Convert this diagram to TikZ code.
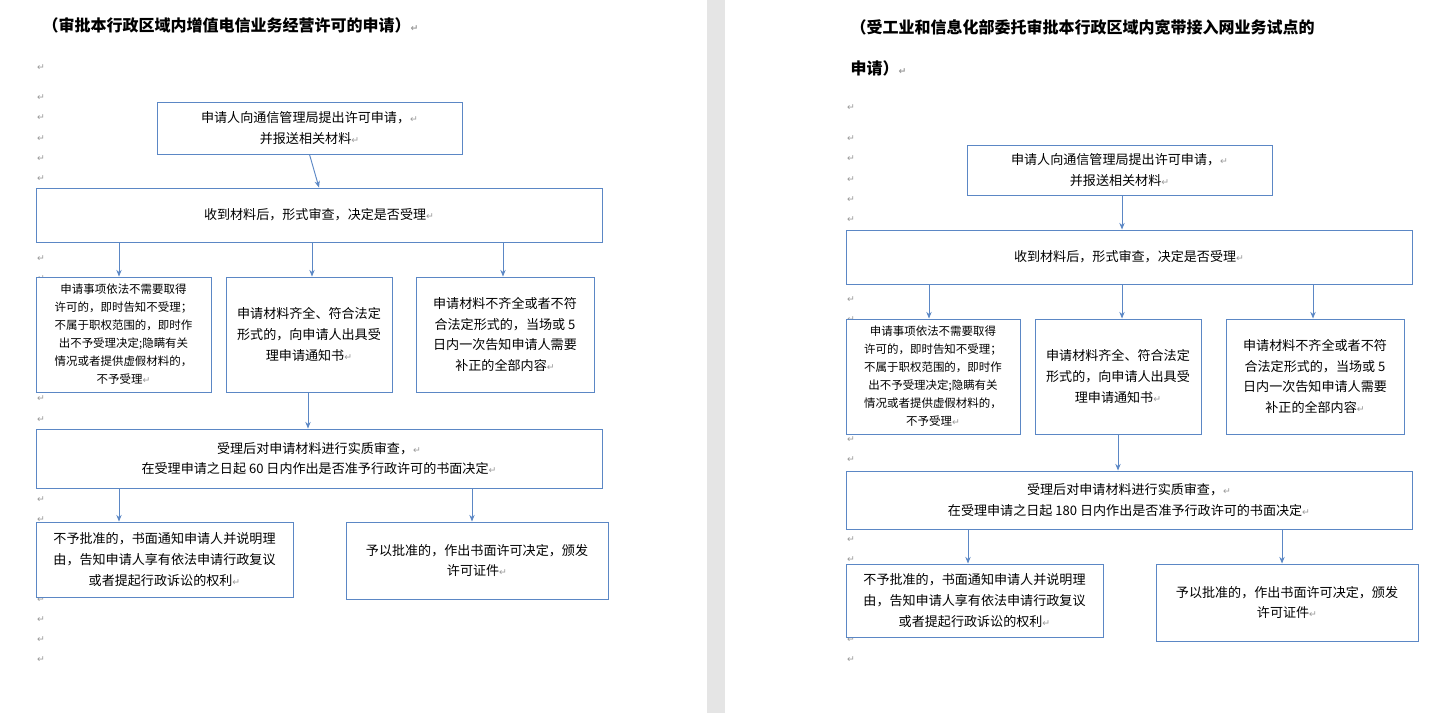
\documentclass[tikz,border=0pt]{standalone}
\usepackage{fontspec}
\setmainfont{Noto Sans CJK SC}
\newfontfamily\dejavu{DejaVu Sans}
\usetikzlibrary{arrows.meta}
\definecolor{bx}{HTML}{5B87C5}
\definecolor{retgray}{HTML}{9A9A9A}
\newcommand\rt{{\dejavu\color{retgray}\fontsize{7}{7}\selectfont ↵}}
\tikzset{
  box/.style={draw=bx,line width=0.7pt,fill=white,inner sep=0pt,align=center,font=\fontsize{9.8}{15.5}\selectfont},
  sbox/.style={box,font=\fontsize{8.6}{13.5}\selectfont},
  arr/.style={draw=bx,line width=0.7pt,-{Stealth[length=5pt,width=4pt]}},
  retmark/.style={inner sep=0pt}
}
\begin{document}
\begin{tikzpicture}[x=0.75pt,y=-0.75pt]
\useasboundingbox (0,0) rectangle (1434,713);
\fill[white] (0,0) rectangle (1434,713);
\fill[black!10] (707,0) rectangle (725,713);
% return marks
\foreach \i in {0,...,28} \node[retmark] (lm\i) at (41,98+\i*20.07) {\rt};
\node[retmark] (lm) at (41,68) {\rt};
\node[retmark] (rm) at (851,108) {\rt};
\foreach \i in {0,...,26} \node[retmark] (rm\i) at (851,139+\i*20.04) {\rt};
% ===== left page =====
\node[anchor=west,font=\bfseries\fontsize{12}{14}\selectfont] (lt) at (38,25) {（审批本行政区域内增值电信业务经营许可的申请）\rt};
\node[box,minimum width=305*0.75pt,minimum height=52*0.75pt] (a1) at (309.5,128) {申请人向通信管理局提出许可申请，\rt\\并报送相关材料\rt};
\node[box,minimum width=566*0.75pt,minimum height=54*0.75pt] (a2) at (319,215) {收到材料后，形式审查，决定是否受理\rt};
\node[sbox,minimum width=175*0.75pt,minimum height=115*0.75pt] (a3) at (123.5,334.5) {申请事项依法不需要取得\\许可的，即时告知不受理；\\不属于职权范围的，即时作\\出不予受理决定;隐瞒有关\\情况或者提供虚假材料的，\\不予受理\rt};
\node[box,minimum width=166*0.75pt,minimum height=115*0.75pt] (a4) at (309,334.5) {申请材料齐全、符合法定\\形式的，向申请人出具受\\理申请通知书\rt};
\node[box,minimum width=178*0.75pt,minimum height=115*0.75pt] (a5) at (505,334.5) {申请材料不齐全或者不符\\合法定形式的，当场或 5\\日内一次告知申请人需要\\补正的全部内容\rt};
\node[box,minimum width=566*0.75pt,minimum height=59*0.75pt] (a6) at (319,458.5) {受理后对申请材料进行实质审查，\rt\\在受理申请之日起 60 日内作出是否准予行政许可的书面决定\rt};
\node[box,minimum width=257*0.75pt,minimum height=75*0.75pt] (a7) at (164.5,559.5) {不予批准的，书面通知申请人并说明理\\由，告知申请人享有依法申请行政复议\\或者提起行政诉讼的权利\rt};
\node[box,minimum width=262*0.75pt,minimum height=77*0.75pt] (a8) at (477,560.5) {予以批准的，作出书面许可决定，颁发\\许可证件\rt};
\draw[arr] (a1.south) -- (a2.north);
\draw[arr] (a2.south -| a3.north) ++(-4.5,0) coordinate (c1) -- (c1 |- a3.north);
\draw[arr] (a2.south -| a4.north) ++(3,0) coordinate (c2) -- (c2 |- a4.north);
\draw[arr] (a2.south -| a5.north) ++(-2,0) coordinate (c3) -- (c3 |- a5.north);
\draw[arr] (a4.south) ++(-1,0) coordinate (c4) -- (c4 |- a6.north);
\draw[arr] (a6.south -| a3.north) ++(-4.5,0) coordinate (c5) -- (c5 |- a7.north);
\draw[arr] (a6.south -| a8.north) ++(-5,0) coordinate (c6) -- (c6 |- a8.north);
% ===== right page =====
\node[anchor=west,font=\bfseries\fontsize{12}{14}\selectfont] (rt1) at (846,27) {（受工业和信息化部委托审批本行政区域内宽带接入网业务试点的};
\node[anchor=west,font=\bfseries\fontsize{12}{14}\selectfont] (rt2) at (846,68) {申请）\rt};
\node[box,minimum width=305*0.75pt,minimum height=50*0.75pt] (b1) at (1119.5,170) {申请人向通信管理局提出许可申请，\rt\\并报送相关材料\rt};
\node[box,minimum width=566*0.75pt,minimum height=54*0.75pt] (b2) at (1129,257) {收到材料后，形式审查，决定是否受理\rt};
\node[sbox,minimum width=174*0.75pt,minimum height=115*0.75pt] (b3) at (933,376.5) {申请事项依法不需要取得\\许可的，即时告知不受理；\\不属于职权范围的，即时作\\出不予受理决定;隐瞒有关\\情况或者提供虚假材料的，\\不予受理\rt};
\node[box,minimum width=166*0.75pt,minimum height=115*0.75pt] (b4) at (1118,376.5) {申请材料齐全、符合法定\\形式的，向申请人出具受\\理申请通知书\rt};
\node[box,minimum width=178*0.75pt,minimum height=115*0.75pt] (b5) at (1315,376.5) {申请材料不齐全或者不符\\合法定形式的，当场或 5\\日内一次告知申请人需要\\补正的全部内容\rt};
\node[box,minimum width=566*0.75pt,minimum height=58*0.75pt] (b6) at (1129,500) {受理后对申请材料进行实质审查，\rt\\在受理申请之日起 180 日内作出是否准予行政许可的书面决定\rt};
\node[box,minimum width=257*0.75pt,minimum height=73*0.75pt] (b7) at (974.5,600.5) {不予批准的，书面通知申请人并说明理\\由，告知申请人享有依法申请行政复议\\或者提起行政诉讼的权利\rt};
\node[box,minimum width=262*0.75pt,minimum height=77*0.75pt] (b8) at (1287,602.5) {予以批准的，作出书面许可决定，颁发\\许可证件\rt};
\draw[arr] (b1.south) ++(2.5,0) coordinate (d0) -- (d0 |- b2.north);
\draw[arr] (b2.south -| b3.north) ++(-4,0) coordinate (d1) -- (d1 |- b3.north);
\draw[arr] (b2.south -| b4.north) ++(4,0) coordinate (d2) -- (d2 |- b4.north);
\draw[arr] (b2.south -| b5.north) ++(-2,0) coordinate (d3) -- (d3 |- b5.north);
\draw[arr] (b4.south) coordinate (d4) -- (d4 |- b6.north);
\draw[arr] (b6.south -| b7.north) ++(-6.5,0) coordinate (d5) -- (d5 |- b7.north);
\draw[arr] (b6.south -| b8.north) ++(-5,0) coordinate (d6) -- (d6 |- b8.north);
\end{tikzpicture}
\end{document}
